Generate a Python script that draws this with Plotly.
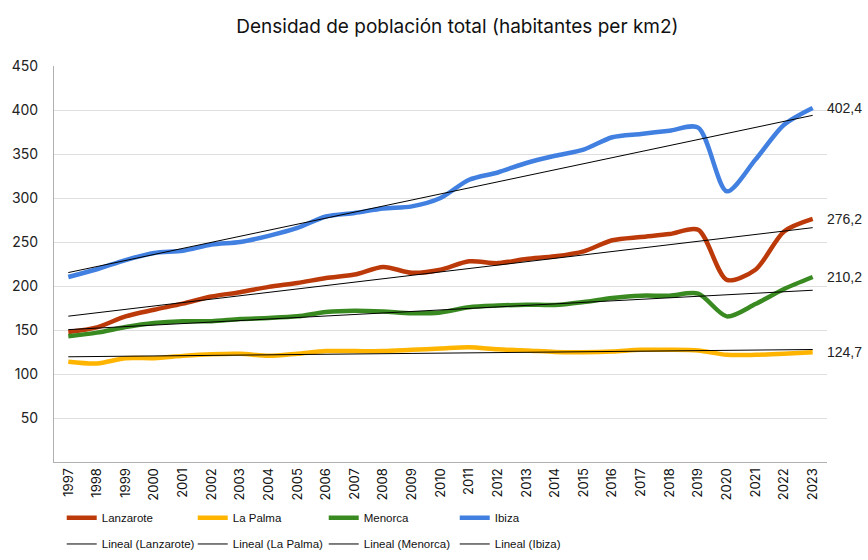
import numpy as np
import plotly.graph_objects as go

# years on the category axis
years = [str(y) for y in range(1997, 2024)]

# population density (inhabitants per km2)
lanzarote = [147.7, 153, 165.5, 173, 180, 188, 193, 199, 203.4, 209, 213, 221.6, 215, 218.5,
             228, 226, 230.7, 233.7, 239.4, 252, 255.7, 259, 264, 207, 218.5, 262, 276.2]
la_palma = [114, 112, 118, 118, 120.6, 122.5, 123, 120.6, 123, 126, 126, 126, 127.5, 129,
            130.5, 128, 126.7, 125, 124.8, 125.6, 127.5, 127.5, 126.7, 121.8, 121.8, 123, 124.7]
menorca = [143, 147, 153.4, 158, 160, 160, 162.5, 163.6, 165.5, 170.5, 172, 171, 169, 170,
           175.8, 177.7, 178.8, 178.4, 181.8, 186.4, 189, 189, 191.3, 165.5, 179.5, 196.6, 210.2]
ibiza = [210.2, 219, 229.5, 237.5, 240, 247, 250, 257, 266, 279, 283, 288, 290.5, 300,
         320.8, 329, 339.8, 348, 355, 369, 372.7, 376.5, 380, 307.6, 343.6, 383.3, 402.4]

series = [("Lanzarote", lanzarote, "#BC3A0A"),
          ("La Palma", la_palma, "#FFB400"),
          ("Menorca", menorca, "#3A8A22"),
          ("Ibiza", ibiza, "#4180E0")]

font = "Inter, Noto Sans, Liberation Sans"
leg_font = "Liberation Sans"

fig = go.Figure()
idx = np.arange(len(years))

for name, vals, col in series:
    fig.add_trace(go.Scatter(x=years, y=vals, name=name, mode="lines",
                             line=dict(color=col, width=4.5, shape="spline", smoothing=0.8),
                             legend="legend"))

# linear trendlines (least squares over the series)
for name, vals, col in series:
    k, d = np.polyfit(idx, vals, 1)
    fig.add_trace(go.Scatter(x=years, y=k * idx + d, name=f"Lineal ({name})", mode="lines",
                             line=dict(color="black", width=1), legend="legend2"))

# last value labels at the right
for name, vals, col in series:
    fig.add_annotation(x=1, xref="paper", y=vals[-1], yref="y", xanchor="left",
                       text=f"{vals[-1]:.1f}".replace(".", ","), showarrow=False,
                       font=dict(size=14, color="#222", family="Liberation Sans"), xshift=-2)

fig.update_layout(
    width=868, height=560,
    paper_bgcolor="white", plot_bgcolor="white",
    margin=dict(l=54, r=41, t=66, b=98, autoexpand=False),
    title=dict(text="Densidad de población total (habitantes per km2)", x=0.527, xanchor="center",
               y=0.953, yanchor="middle", font=dict(size=19, color="#111", family=font)),
    xaxis=dict(type="category", range=[-0.5, 26.5], tickangle=-90, showgrid=False,
               showline=True, linecolor="#b0b0b0", ticks="", automargin=False,
               tickfont=dict(size=13, color="#111", family=font)),
    yaxis=dict(range=[0, 450], tickvals=list(range(50, 451, 50)), showgrid=True,
               gridcolor="#dedede", showline=True, linecolor="#b0b0b0", zeroline=False,
               ticks="", automargin=False, ticklabelstandoff=12,
               tickfont=dict(size=14, color="#222", family=font)),
    legend=dict(orientation="h", x=0.01, xanchor="left", y=-0.141, yanchor="middle",
                entrywidth=86, entrywidthmode="pixels", itemwidth=30,
                font=dict(size=11.5, color="#111", family=leg_font), bgcolor="rgba(0,0,0,0)"),
    legend2=dict(orientation="h", x=0.01, xanchor="left", y=-0.207, yanchor="middle",
                 entrywidth=86, entrywidthmode="pixels", itemwidth=30,
                 font=dict(size=11.5, color="#111", family=leg_font), bgcolor="rgba(0,0,0,0)"),
)

# drop the default page margin so the figure fills the window exactly
fig.write_html("out.html", config={"displayModeBar": False},
               post_script="document.body.style.margin='0';"
                           "document.body.style.overflow='hidden';")
